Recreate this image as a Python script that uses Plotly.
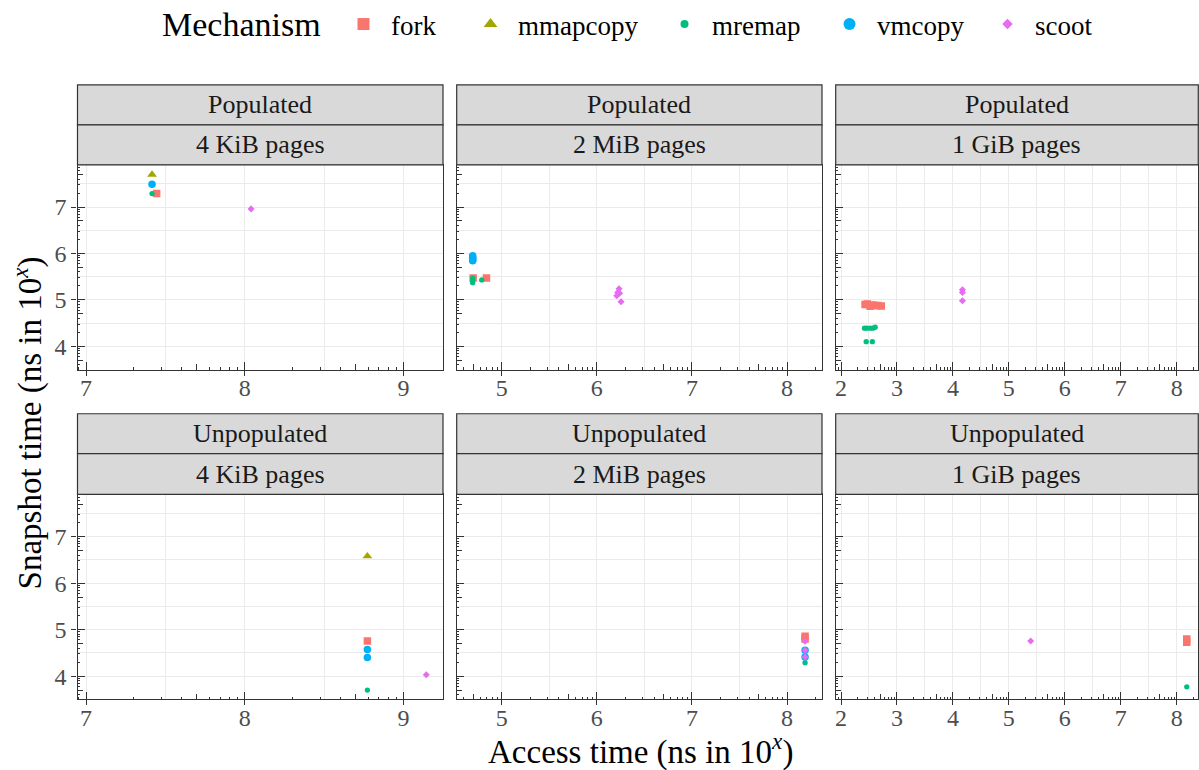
import numpy as np
import plotly.graph_objects as go

FONT = "Liberation Serif"
W, H = 1199, 770

# ---------------- facets ----------------
row_labels = ["Populated", "Unpopulated"]
col_labels = ["4 KiB pages", "2 MiB pages", "1 GiB pages"]

# ---------------- mechanisms ----------------
mechanisms = ["fork", "mmapcopy", "mremap", "vmcopy", "scoot"]
colors = ["#F8766D", "#A3A500", "#00BF7D", "#00B0F6", "#E76BF3"]
symbols = ["square", "triangle-up", "circle", "circle", "diamond"]

# ---------------- data (panel = row*3 + col), log10 ns ----------------
fork_panel = [0, 1, 1, 2, 2, 2, 2, 2, 2, 2, 3, 4, 4, 5, 5]
fork_access = [7.445, 4.70, 4.84, 2.43, 2.47, 2.52, 2.56, 2.61, 2.66, 2.72, 8.773, 8.19, 8.19, 8.18, 8.18]
fork_snapshot = [7.29, 5.47, 5.47, 4.90, 4.91, 4.86, 4.89, 4.88, 4.88, 4.87, 4.755, 4.86, 4.80, 4.80, 4.73]

mmapcopy_panel = [0, 3]
mmapcopy_access = [7.416, 8.773]
mmapcopy_snapshot = [7.70, 6.58]

mremap_panel = [0, 1, 1, 1, 1, 2, 2, 2, 2, 2, 2, 2, 3, 4, 5]
mremap_access = [7.416, 4.695, 4.695, 4.695, 4.79, 2.42, 2.46, 2.52, 2.57, 2.61, 2.45, 2.56, 8.773, 8.19, 8.18]
mremap_snapshot = [7.29, 5.47, 5.415, 5.37, 5.43, 4.39, 4.39, 4.39, 4.39, 4.41, 4.10, 4.10, 3.70, 4.29, 3.77]

vmcopy_panel = [0, 1, 1, 1, 1, 1, 3, 3, 4, 4]
vmcopy_access = [7.416, 4.695, 4.695, 4.695, 4.695, 4.695, 8.773, 8.773, 8.19, 8.19]
vmcopy_snapshot = [7.49, 5.95, 5.92, 5.89, 5.86, 5.84, 4.57, 4.40, 4.555, 4.41]

scoot_panel = [0, 1, 1, 1, 1, 1, 2, 2, 2, 3, 4, 4, 4, 5]
scoot_access = [8.04, 6.234, 6.22, 6.24, 6.21, 6.255, 4.17, 4.17, 4.17, 9.144, 8.19, 8.19, 8.19, 5.39]
scoot_snapshot = [6.96, 5.24, 5.16, 5.14, 5.09, 4.96, 5.22, 5.16, 4.98, 4.03, 4.75, 4.555, 4.41, 4.755]

series = {
    "fork": (fork_panel, fork_access, fork_snapshot),
    "mmapcopy": (mmapcopy_panel, mmapcopy_access, mmapcopy_snapshot),
    "mremap": (mremap_panel, mremap_access, mremap_snapshot),
    "vmcopy": (vmcopy_panel, vmcopy_access, vmcopy_snapshot),
    "scoot": (scoot_panel, scoot_access, scoot_snapshot),
}

# ---------------- styling / geometry ----------------
marker_sizes = [7.5, 8.5, 5.3, 7.5, 5.4]
legend_sizes = [12, 12, 8, 12, 8]

col_px = [(77.5, 443.0), (456.7, 822.0), (835.7, 1198.3)]
col_ranges = [(6.9464, 9.2495), (4.527, 8.368), (1.905, 8.386)]
row_panel_px = [(164.0, 369.0), (494.0, 699.3)]
row_strip_px = [(84.0, 124.0, 164.0), (413.3, 453.3, 494.0)]
y_range = (3.499, 7.91)

def px_x(v):
    return v / W

def px_y(v):
    return 1 - v / H

def logticks(lo, hi):
    long_, mid, short = [], [], []
    for n in range(int(np.floor(lo)) - 1, int(np.ceil(hi)) + 1):
        for k in range(1, 10):
            v = n + np.log10(k)
            if lo <= v <= hi:
                (long_ if k == 1 else mid if k == 5 else short).append(float(v))
    return long_, mid, short

def halves(lo, hi):
    out = []
    v = np.floor(lo) + 0.5
    while v < hi:
        if v > lo:
            out.append(float(v))
        v += 1
    return out

def integers(lo, hi):
    return [int(v) for v in range(int(np.ceil(lo)), int(np.floor(hi)) + 1)]

tickfont = dict(family=FONT, size=24, color="#4D4D4D")
BORDER = "#333333"
GRID = "#EBEBEB"

fig = go.Figure()
layout = dict(
    width=W, height=H, template="none",
    margin=dict(l=0, r=0, t=0, b=0, pad=0),
    paper_bgcolor="white", plot_bgcolor="white",
    font=dict(family=FONT, color="black"),
    shapes=[], annotations=[],
)

def axname(prefix, i):
    return prefix + ("" if i == 1 else str(i))

tick_lens = [7.7, 5.1, 2.6]
overlay_pairs = []

for p in range(6):
    r, c = divmod(p, 3)
    xd = [px_x(col_px[c][0]), px_x(col_px[c][1])]
    yd = [px_y(row_panel_px[r][1]), px_y(row_panel_px[r][0])]
    xr = list(col_ranges[c])
    xi = p + 1
    xn, yn = axname("xaxis", xi), axname("yaxis", xi)
    xref, yref = axname("x", xi), axname("y", xi)

    layout[xn] = dict(
        domain=xd, range=xr, anchor=yref,
        tickmode="array", tickvals=integers(*xr), ticktext=[str(v) for v in integers(*xr)],
        ticks="outside", ticklen=5, tickwidth=1, tickcolor=BORDER,
        showticklabels=True, tickfont=tickfont, ticklabelstandoff=-8,
        showgrid=True, gridcolor=GRID, gridwidth=1.2,
        minor=dict(tickmode="array", tickvals=halves(*xr), showgrid=True,
                   gridcolor=GRID, gridwidth=0.6, ticks=""),
        showline=True, mirror=True, linecolor=BORDER, linewidth=1.2,
        zeroline=False, fixedrange=True,
    )
    layout[yn] = dict(
        domain=yd, range=list(y_range), anchor=xref,
        tickmode="array", tickvals=integers(*y_range), ticktext=[str(v) for v in integers(*y_range)],
        ticks="outside" if c == 0 else "", ticklen=5, tickwidth=1, tickcolor=BORDER,
        showticklabels=(c == 0), tickfont=tickfont,
        showgrid=True, gridcolor=GRID, gridwidth=1.2,
        minor=dict(tickmode="array", tickvals=halves(*y_range), showgrid=True,
                   gridcolor=GRID, gridwidth=0.6, ticks=""),
        showline=True, mirror=True, linecolor=BORDER, linewidth=1.2,
        zeroline=False, fixedrange=True,
    )

    # log ticks (annotation_logticks): long / mid / short
    xt = logticks(*xr)
    yt = logticks(*y_range)
    for j in range(3):
        oi = 7 + p * 3 + j
        layout[axname("xaxis", oi)] = dict(
            domain=xd, range=xr, overlaying=xref, anchor=yref, side="bottom",
            tickmode="array", tickvals=xt[j], ticks="inside", ticklen=tick_lens[j],
            tickwidth=1, tickcolor=BORDER, showticklabels=False,
            showgrid=False, showline=False, zeroline=False, fixedrange=True,
        )
        layout[axname("yaxis", oi)] = dict(
            domain=yd, range=list(y_range), overlaying=yref, anchor=xref, side="left",
            tickmode="array", tickvals=yt[j], ticks="inside", ticklen=tick_lens[j],
            tickwidth=1, tickcolor=BORDER, showticklabels=False,
            showgrid=False, showline=False, zeroline=False, fixedrange=True,
        )
        overlay_pairs.append((axname("x", oi), yref))
        overlay_pairs.append((xref, axname("y", oi)))

    # strips
    s0, s1, s2 = row_strip_px[r]
    for (a, b, txt) in [(s0, s1, row_labels[r]), (s1, s2, col_labels[c])]:
        layout["shapes"].append(dict(
            type="rect", xref="paper", yref="paper",
            x0=xd[0], x1=xd[1], y0=px_y(b), y1=px_y(a),
            fillcolor="#D9D9D9", line=dict(color=BORDER, width=1.2), layer="above",
        ))
        layout["annotations"].append(dict(
            xref="paper", yref="paper", x=(xd[0] + xd[1]) / 2, y=px_y((a + b) / 2),
            text=txt, showarrow=False, xanchor="center", yanchor="middle",
            font=dict(family=FONT, size=26, color="#1A1A1A"),
        ))

# empty traces so that the log-tick overlay axes get drawn
for xa, ya in overlay_pairs:
    fig.add_trace(go.Scatter(x=[], y=[], xaxis=xa, yaxis=ya, mode="markers",
                             showlegend=False, hoverinfo="skip"))

# ---------------- data traces ----------------
for m_i, m in enumerate(mechanisms):
    pan, xs, ys = series[m]
    for p in range(6):
        px_ = [x for q, x in zip(pan, xs) if q == p]
        py_ = [y for q, y in zip(pan, ys) if q == p]
        if not px_:
            continue
        fig.add_trace(go.Scatter(
            x=px_, y=py_, mode="markers", name=m, legendgroup=m, showlegend=False,
            xaxis=axname("x", p + 1), yaxis=axname("y", p + 1),
            marker=dict(symbol=symbols[m_i], color=colors[m_i], size=marker_sizes[m_i],
                        line=dict(width=0)),
            hovertemplate=m + "<br>access 10^%{x:.2f}<br>snapshot 10^%{y:.2f}<extra></extra>",
        ))

# ---------------- legend (one legend per key to mimic ggplot spacing) ----------------
legend_x_px = [336, 463, 657, 822, 980]
for m_i, m in enumerate(mechanisms):
    lg = "legend" if m_i == 0 else f"legend{m_i + 1}"
    fig.add_trace(go.Scatter(
        x=[None], y=[None], mode="markers", name=m, legendgroup=m, showlegend=True,
        legend=lg,
        marker=dict(symbol=symbols[m_i], color=colors[m_i], size=legend_sizes[m_i],
                    line=dict(width=0)),
    ))
    layout[lg] = dict(
        x=px_x(legend_x_px[m_i]), y=px_y(24), xanchor="left", yanchor="middle",
        orientation="h", bgcolor="rgba(0,0,0,0)", borderwidth=0, itemwidth=45,
        font=dict(family=FONT, size=27, color="black"),
        itemclick=False, itemdoubleclick=False,
    )

layout["annotations"].append(dict(
    xref="paper", yref="paper", x=px_x(160), y=px_y(24), text="Mechanism",
    showarrow=False, xanchor="left", yanchor="middle",
    font=dict(family=FONT, size=34, color="black"),
))

# ---------------- axis titles ----------------
layout["annotations"].append(dict(
    xref="paper", yref="paper", x=px_x(640), y=px_y(749),
    text="Access time (ns in 10<sup><i>x</i></sup>)", showarrow=False,
    xanchor="center", yanchor="middle", font=dict(family=FONT, size=33, color="black"),
))
layout["annotations"].append(dict(
    xref="paper", yref="paper", x=px_x(28), y=px_y(423),
    text="Snapshot time (ns in 10<sup><i>x</i></sup>)", showarrow=False, textangle=-90,
    xanchor="center", yanchor="middle", font=dict(family=FONT, size=33, color="black"),
))

fig.update_layout(**layout)
fig.write_html(
    "out.html",
    config={"displayModeBar": False},
    post_script="document.body.style.margin='0px';document.body.style.overflow='hidden';",
)
